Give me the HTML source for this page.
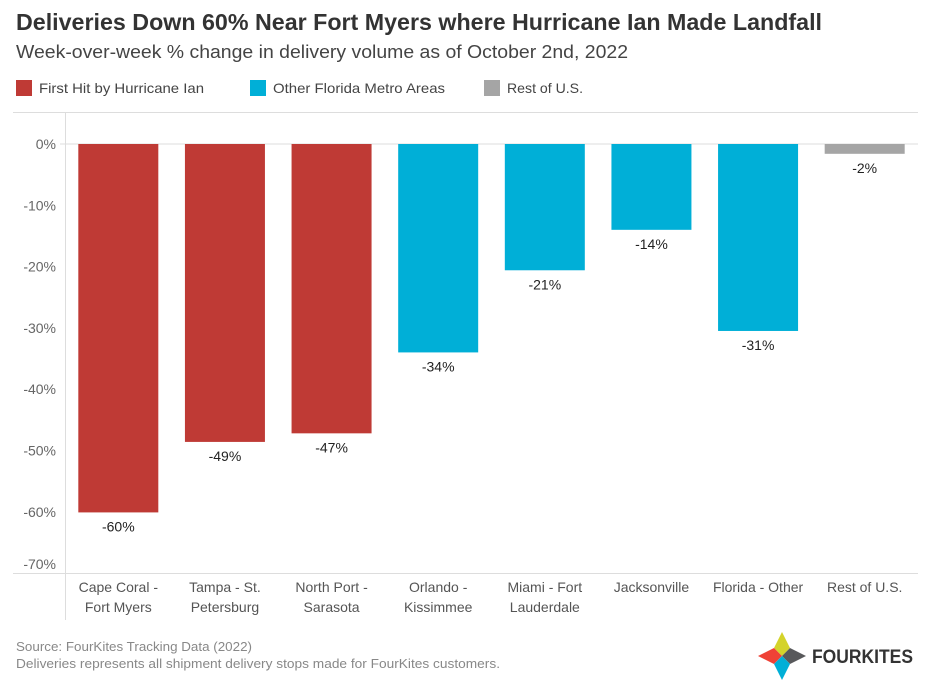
<!DOCTYPE html>
<html><head><meta charset="utf-8"><style>
body{margin:0;background:#fff;font-family:"Liberation Sans","DejaVu Sans",sans-serif;}
#wrap{position:relative;width:938px;height:690px;overflow:hidden;}
</style></head><body>
<div id="wrap">
<svg id="chart" width="938" height="690">
<text x="16" y="30" font-size="23" font-weight="bold" fill="#333" textLength="806" lengthAdjust="spacingAndGlyphs">Deliveries Down 60% Near Fort Myers where Hurricane Ian Made Landfall</text>
<text x="16" y="58" font-size="18" fill="#444" textLength="612" lengthAdjust="spacingAndGlyphs">Week-over-week % change in delivery volume as of October 2nd, 2022</text>
<g>
<rect x="16" y="80" width="16" height="16" fill="#bf3a35"/>
<text x="39" y="93" font-size="14" fill="#444" textLength="165" lengthAdjust="spacingAndGlyphs">First Hit by Hurricane Ian</text>
<rect x="250" y="80" width="16" height="16" fill="#00afd7"/>
<text x="273" y="93" font-size="14" fill="#444" textLength="172" lengthAdjust="spacingAndGlyphs">Other Florida Metro Areas</text>
<rect x="484" y="80" width="16" height="16" fill="#a5a5a5"/>
<text x="507" y="93" font-size="14" fill="#444" textLength="76" lengthAdjust="spacingAndGlyphs">Rest of U.S.</text>
</g>
<line x1="13" y1="112.5" x2="918" y2="112.5" stroke="#ddd"/>
<line x1="65.5" y1="112" x2="65.5" y2="620" stroke="#ddd"/>
<line x1="13" y1="573.5" x2="918" y2="573.5" stroke="#ddd"/>
<g id="yaxis"></g><g id="bars"></g><g id="xaxis"></g>
<text x="16" y="651" font-size="13" fill="#888" textLength="236" lengthAdjust="spacingAndGlyphs">Source: FourKites Tracking Data (2022)</text>
<text x="16" y="668" font-size="13" fill="#888" textLength="484" lengthAdjust="spacingAndGlyphs">Deliveries represents all shipment delivery stops made for FourKites customers.</text>
<g>
<polygon points="782,632 790,648 782,656 774,648" fill="#d4d32a"/>
<polygon points="758,656 774,648 782,656 774,664" fill="#ef4136"/>
<polygon points="782,656 790,648 806,656 790,664" fill="#58595b"/>
<polygon points="782,656 790,664 782,680 774,664" fill="#00afd7"/>
<text x="812" y="663" font-size="19" font-weight="bold" fill="#333" textLength="101" lengthAdjust="spacingAndGlyphs">FOURKITES</text>
</g>
</svg></div>
<script>
const categories=["Cape Coral -|Fort Myers","Tampa - St.|Petersburg","North Port -|Sarasota","Orlando -|Kissimmee","Miami - Fort|Lauderdale","Jacksonville","Florida - Other","Rest of U.S."];
const values=[-60.1,-48.6,-47.2,-34.0,-20.6,-14.0,-30.5,-1.6];
const groups=[0,0,0,1,1,1,1,2];
const labels=["-60%","-49%","-47%","-34%","-21%","-14%","-31%","-2%"];
const ticks=[0,-10,-20,-30,-40,-50,-60,-70];
const colors=["#bf3a35","#00afd7","#a5a5a5"];
const NS="http://www.w3.org/2000/svg";
const y=v=>144+(-v)*6.13;
const x0=65,bandW=(918-65)/categories.length;
const xc=i=>x0+bandW*(i+0.5);
function mk(t,a,p){const e=document.createElementNS(NS,t);for(const k in a)e.setAttribute(k,a[k]);p.appendChild(e);return e;}
const ya=document.getElementById('yaxis'),bg=document.getElementById('bars'),xa=document.getElementById('xaxis');
ticks.forEach(t=>{
 const ty=Math.min(y(t),564);
 const tx=mk('text',{x:56,y:ty+5,'text-anchor':'end','font-size':14,fill:'#666'},ya);
 tx.textContent=t+'%';
 
 
 if(t===0){const l=mk('line',{x1:60,x2:918,y1:y(0),y2:y(0),stroke:'#ddd'},ya);
 
 }
});
values.forEach((v,i)=>{
 const r=mk('rect',{x:xc(i)-40,y:y(0),width:80,height:y(v)-y(0),fill:colors[groups[i]]},bg);
 
 
 const t=mk('text',{x:xc(i),y:y(v)+19,'text-anchor':'middle','font-size':14,fill:'#222'},bg);
 t.textContent=labels[i];
 
 
 categories[i].split('|').forEach((ln,j)=>{
  const c=mk('text',{x:xc(i),y:592+j*20,'text-anchor':'middle','font-size':14,fill:'#555'},xa);
  c.textContent=ln;
  
  
 });
});
</script>
</body></html>
